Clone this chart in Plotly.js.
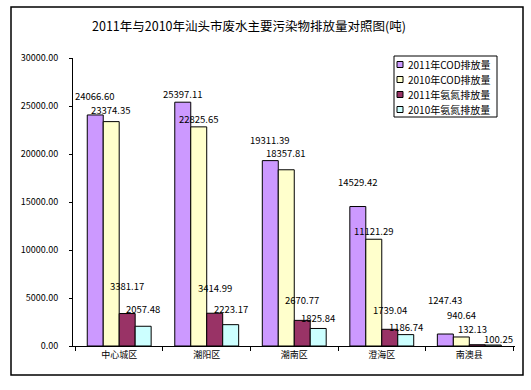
<!DOCTYPE html>
<html>
<head>
<meta charset="utf-8">
<script src="https://cdn.plot.ly/plotly-3.0.1.min.js"></script>
<style>
html,body{margin:0;padding:0;background:#fff;}
#chart{width:531px;height:390px;}
</style>
</head>
<body>
<div id="chart"></div>
<script>
const categories = ['中心城区', '潮阳区', '潮南区', '澄海区', '南澳县'];
const seriesNames = ['2011年COD排放量', '2010年COD排放量', '2011年氨氮排放量', '2010年氨氮排放量'];
const cod2011 = [24066.60, 25397.11, 19311.39, 14529.42, 1247.43];
const cod2010 = [23374.35, 22825.65, 18357.81, 11121.29, 940.64];
const nh2011 = [3381.17, 3414.99, 2670.77, 1739.04, 132.13];
const nh2010 = [2057.48, 2223.17, 1825.84, 1186.74, 100.25];
const yTickVals = [0, 5000, 10000, 15000, 20000, 25000, 30000];
const yTickText = ['0.00', '5000.00', '10000.00', '15000.00', '20000.00', '25000.00', '30000.00'];

// styling: colours and how far (px) each value label sits above its bar
const colors = ['#CC99FF', '#FFFFCC', '#993366', '#CCFFFF'];
const labelLift = [
  [19, 8, 21, 25, 34],
  [12, 8, 17, 8, 22],
  [28, 25, 20, 19, 16],
  [17, 16, 10, 8, 6]
];
const labelNudgeX = [
  [0, 0, 0, 0, 0],
  [0, 0, 0, 0, 0],
  [0, 0, 0, 0, -5],
  [0, 0, 0, 0, 5]
];
const allSeries = [cod2011, cod2010, nh2011, nh2010];
const FONT = 'SimSun, "Noto Sans CJK SC", sans-serif';

const traces = allSeries.map((vals, i) => ({
  type: 'bar',
  name: seriesNames[i],
  x: categories,
  y: vals,
  marker: {color: colors[i], line: {color: '#000', width: 1}},
  showlegend: false,
  hoverinfo: 'x+y'
}));

// plot area geometry: l=73, r=16, t=58, b=44 -> width 442, height 288
const W = 442, H = 288, L = 73, T = 58;
const px = x => (x - L) / W;
const py = y => (T + H - y) / H;
const BARGAP = 0.27;
const barW = W / categories.length * (1 - BARGAP) / allSeries.length;

const shapes = [
  {type: 'rect', xref: 'paper', yref: 'paper', x0: px(11), x1: px(523), y0: py(375), y1: py(7),
   line: {color: '#000', width: 1.5}, fillcolor: 'rgba(0,0,0,0)', layer: 'below'},
  {type: 'rect', xref: 'paper', yref: 'paper', x0: px(394), x1: px(497), y0: py(117), y1: py(56),
   line: {color: '#000', width: 1}, fillcolor: '#fff'}
];
const annotations = [];

// value labels, anchored to each bar's value on the data axes
allSeries.forEach((vals, i) => {
  vals.forEach((v, j) => {
    annotations.push({xref: 'x', yref: 'y', x: categories[j], y: v,
      xshift: (i - (allSeries.length - 1) / 2) * barW + labelNudgeX[i][j], yshift: labelLift[i][j],
      xanchor: 'center', yanchor: 'middle', showarrow: false, text: v.toFixed(2),
      font: {size: 9.5, color: '#000', family: FONT}});
  });
});

const rowY = [64.5, 79.5, 94.5, 109.5];
seriesNames.forEach((n, i) => {
  shapes.push({type: 'rect', xref: 'paper', yref: 'paper',
    x0: px(397), x1: px(403), y0: py(rowY[i] + 3), y1: py(rowY[i] - 3),
    line: {color: '#000', width: 1}, fillcolor: colors[i]});
  annotations.push({xref: 'paper', yref: 'paper', x: px(406), y: py(rowY[i]),
    xanchor: 'left', yanchor: 'middle', showarrow: false, text: n,
    font: {size: 10, color: '#000', family: FONT}});
});

const layout = {
  width: 531, height: 390,
  margin: {l: L, r: 16, t: T, b: 44, pad: 0},
  paper_bgcolor: '#fff', plot_bgcolor: '#fff',
  barmode: 'group', bargap: BARGAP, bargroupgap: 0,
  title: {text: '2011年与2010年汕头市废水主要污染物排放量对照图(吨)',
    font: {size: 12.5, color: '#000', family: FONT},
    xref: 'container', yref: 'container', x: 249/531, y: 1 - 27/390,
    xanchor: 'center', yanchor: 'middle'},
  xaxis: {type: 'category', showline: true, linecolor: '#000', linewidth: 1,
    ticks: 'outside', tickson: 'boundaries', ticklen: 4, tickcolor: '#000',
    tickfont: {size: 9, color: '#000', family: FONT}, showgrid: false, zeroline: false},
  yaxis: {range: [0, 30000], tickvals: yTickVals, ticktext: yTickText,
    showline: true, linecolor: '#000', linewidth: 1, ticks: 'outside', ticklen: 3,
    tickcolor: '#000', ticklabelstandoff: 9,
    tickfont: {size: 9, color: '#000', family: FONT}, showgrid: false, zeroline: false},
  shapes: shapes,
  annotations: annotations,
  showlegend: false,
  font: {family: FONT}
};

Plotly.newPlot('chart', traces, layout, {staticPlot: true});
</script>
</body>
</html>
